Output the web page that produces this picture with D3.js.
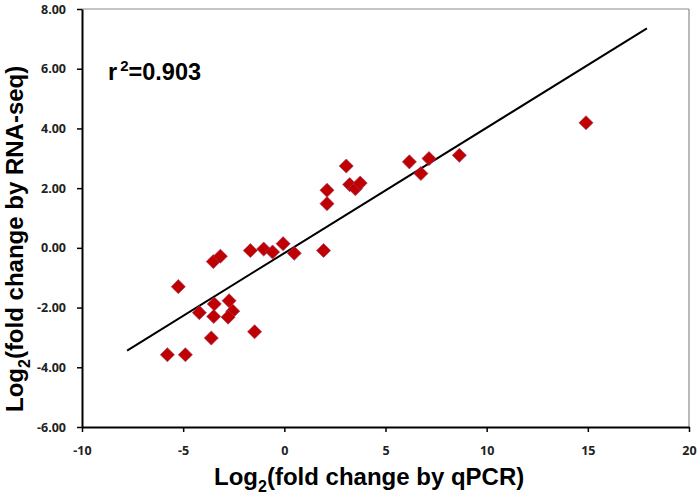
<!DOCTYPE html>
<html>
<head>
<meta charset="utf-8">
<script src="https://cdn.jsdelivr.net/npm/d3@7"></script>
<style>
  body { margin: 0; background: white; }
</style>
</head>
<body>
<div id="chart"></div>
<script>
    // qPCR vs RNA-seq log2 fold change
    var qpcr = [-5.78, -4.89, -5.24, -4.20, -3.51, -3.16, -3.46, -3.49, -3.61, -2.73,
                -2.55, -2.78, -1.47, -1.68, -1.02, -0.58, -0.06, 0.49, 1.94, 2.11,
                2.11, 3.06, 3.23, 3.51, 3.75, 6.18, 6.75, 7.15, 8.65, 14.91];
    var rnaseq = [-3.58, -3.58, -1.30, -2.17, -0.46, -0.28, -1.88, -2.30, -3.02, -1.77,
                  -2.12, -2.32, -2.81, -0.09, -0.04, -0.14, 0.14, -0.18, -0.09, 1.93,
                  1.48, 2.74, 2.12, 1.98, 2.17, 2.88, 2.49, 2.99, 3.10, 4.19];

    // trend line ends
    var fitX = [-7.77, 17.92];
    var fitY = [-3.44, 7.35];

    var xTicks = [-10, -5, 0, 5, 10, 15, 20];
    var yTicks = [-6, -4, -2, 0, 2, 4, 6, 8];

    var redColor = "#C00000";
    var frameGrey = "#8c8c8c";

    const width = 700, height = 501;
    const plot = { left: 82, right: 689, top: 9, bottom: 427 };

    const svg = d3.select("#chart")
      .append("svg")
      .attr("width", width)
      .attr("height", height);

    const x = d3.scaleLinear().domain([-10, 20]).range([plot.left, plot.right]);
    const y = d3.scaleLinear().domain([-6, 8]).range([plot.bottom, plot.top]);

    // hyphen instead of unicode minus
    const loc = d3.formatLocale({ decimal: ".", thousands: ",", grouping: [3], currency: ["", ""], minus: "-" });

    // grey frame top + right
    svg.append("line")
      .attr("x1", plot.left).attr("x2", plot.right)
      .attr("y1", plot.top).attr("y2", plot.top)
      .attr("stroke", frameGrey).attr("stroke-width", 1.2);
    svg.append("line")
      .attr("x1", plot.right).attr("x2", plot.right)
      .attr("y1", plot.top).attr("y2", plot.bottom)
      .attr("stroke", frameGrey).attr("stroke-width", 1.2);

    // X axis
    const xAxis = svg.append("g")
      .attr("transform", `translate(0, ${plot.bottom})`)
      .call(d3.axisBottom(x).tickValues(xTicks).tickSize(5).tickSizeOuter(0).tickFormat(loc.format("d")));
    xAxis.select(".domain").attr("stroke", "black").attr("stroke-width", 2);
    xAxis.selectAll(".tick line").attr("stroke", "black").attr("stroke-width", 1.5);
    xAxis.selectAll("text")
      .attr("y", 19)
      .style("font-family", "Open Sans")
      .style("font-weight", "bold")
      .style("font-size", "12.5px")
      .attr("fill", "#222");

    // Y axis
    const yAxis = svg.append("g")
      .attr("transform", `translate(${plot.left}, 0)`)
      .call(d3.axisLeft(y).tickValues(yTicks).tickSize(5).tickSizeOuter(0).tickFormat(loc.format(".2f")));
    yAxis.select(".domain").attr("stroke", "black").attr("stroke-width", 2);
    yAxis.selectAll(".tick line").attr("stroke", "black").attr("stroke-width", 1.5);
    yAxis.selectAll("text")
      .attr("x", -16)
      .style("font-family", "Open Sans")
      .style("font-weight", "bold")
      .style("font-size", "12.5px")
      .attr("fill", "#222");

    // trend line
    svg.append("line")
      .attr("x1", x(fitX[0])).attr("y1", y(fitY[0]))
      .attr("x2", x(fitX[1])).attr("y2", y(fitY[1]))
      .attr("stroke", "black")
      .attr("stroke-width", 2);

    // diamonds
    const diamond = d3.symbol().type(d3.symbolSquare).size(100);
    svg.selectAll(".pt")
      .data(qpcr)
      .enter()
      .append("path")
      .attr("class", "pt")
      .attr("d", diamond)
      .attr("transform", function (d, i) {
        return `translate(${x(d)},${y(rnaseq[i])}) rotate(45)`;
      })
      .attr("fill", redColor)
      .attr("stroke", "#9a3a6a")
      .attr("stroke-width", 0.6);

    // r squared label
    const r2 = svg.append("text")
      .attr("x", 108)
      .attr("y", 80)
      .style("font-family", "Liberation Sans, Arial")
      .style("font-weight", "bold")
      .style("font-size", "23.5px");
    r2.append("tspan").text("r");
    r2.append("tspan").attr("dx", 3).attr("dy", -9).style("font-size", "15px").text("2");
    r2.append("tspan").attr("dy", 9).text("=0.903");

    // axis titles
    const xt = svg.append("text")
      .attr("x", 214)
      .attr("y", 485)
      .style("font-family", "Liberation Sans, Arial")
      .style("font-weight", "bold")
      .style("font-size", "24px");
    xt.append("tspan").text("Log");
    xt.append("tspan").attr("dy", 7).style("font-size", "16px").text("2");
    xt.append("tspan").attr("dy", -7).text("(fold change by qPCR)");

    const yt = svg.append("text")
      .attr("transform", "translate(23, 412) rotate(-90)")
      .style("font-family", "Liberation Sans, Arial")
      .style("font-weight", "bold")
      .style("font-size", "24px");
    yt.append("tspan").text("Log");
    yt.append("tspan").attr("dy", 7).style("font-size", "16px").text("2");
    yt.append("tspan").attr("dy", -7).text("(fold change by RNA-seq)");
</script>
</body>
</html>
